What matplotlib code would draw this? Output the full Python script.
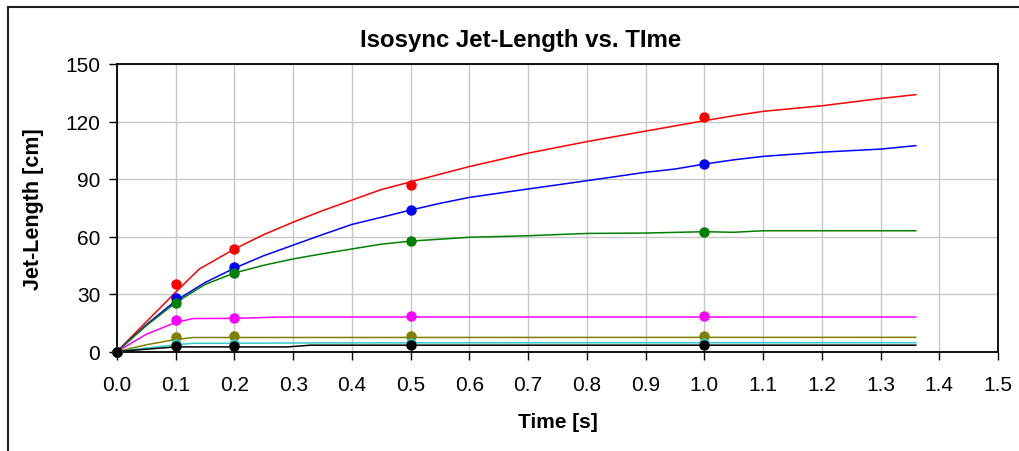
import numpy as np
import matplotlib
matplotlib.use("Agg")
import matplotlib.pyplot as plt
from matplotlib.lines import Line2D

plt.rcParams['font.family'] = ['Liberation Sans', 'DejaVu Sans']

# simulated curves (lines)
t_red = [0, 0.05, 0.1, 0.14, 0.2, 0.25, 0.3, 0.35, 0.4, 0.45, 0.5, 0.6, 0.7, 0.8, 0.9, 1.0, 1.05, 1.1, 1.2, 1.3, 1.36]
y_red = [0, 15.5, 31, 43, 53.5, 61, 67.5, 73.5, 79, 84.5, 88.5, 96.5, 103.5, 109.5, 115, 120.4, 123, 125.3, 128.2, 132, 134]

t_blue = [0, 0.05, 0.1, 0.15, 0.2, 0.25, 0.3, 0.35, 0.4, 0.45, 0.5, 0.55, 0.6, 0.7, 0.8, 0.9, 0.95, 1.0, 1.05, 1.1, 1.2, 1.3, 1.36]
y_blue = [0, 14, 26.5, 36, 43.5, 50, 55.5, 61, 66.3, 70, 73.8, 77.3, 80.4, 84.8, 89.1, 93.5, 95.2, 97.8, 100, 101.8, 104, 105.6, 107.4]

t_green = [0, 0.05, 0.1, 0.15, 0.2, 0.25, 0.3, 0.35, 0.4, 0.45, 0.5, 0.6, 0.7, 0.8, 0.9, 1.0, 1.05, 1.1, 1.36]
y_green = [0, 13.5, 25.5, 35, 41, 45, 48.3, 51, 53.5, 56, 57.6, 59.6, 60.4, 61.6, 61.8, 62.5, 62.2, 63, 63]

t_magenta = [0, 0.05, 0.1, 0.13, 0.2, 0.28, 1.36]
y_magenta = [0, 9, 15.2, 17.2, 17.3, 18, 18]

t_olive = [0, 0.05, 0.1, 0.13, 1.36]
y_olive = [0, 3.5, 6.3, 7.3, 7.4]

t_cyan = [0, 0.05, 0.1, 0.13, 0.2, 0.35, 1.36]
y_cyan = [0, 1.8, 3.5, 4.3, 4.3, 4.5, 4.6]

t_black = [0, 0.1, 0.29, 0.33, 1.36]
y_black = [0, 2.4, 2.4, 3.3, 3.3]

# measured values (dots)
t_meas = [0, 0.1, 0.2, 0.5, 1.0]
m_red = [0, 35.2, 53.5, 86.7, 122.5]
m_blue = [0, 27.7, 43.9, 73.8, 97.8]
m_green = [0, 25.3, 41, 57.6, 62.5]
m_magenta = [0, 16.4, 17.6, 18.4, 18.4]
m_olive = [0, 7.4, 8.1, 8.1, 8.1]
m_cyan = [0, 3.8, 4.1, 4.5, 4.6]
m_black = [0, 3.0, 3.0, 3.5, 3.5]

series = [
    (t_red, y_red, m_red, '#FF0000'),
    (t_blue, y_blue, m_blue, '#0000FF'),
    (t_green, y_green, m_green, '#008000'),
    (t_magenta, y_magenta, m_magenta, '#FF00FF'),
    (t_olive, y_olive, m_olive, '#808000'),
    (t_cyan, y_cyan, m_cyan, '#33CCCC'),
    (t_black, y_black, m_black, '#000000'),
]

fig = plt.figure(figsize=(10.2, 4.52), dpi=100)
ax = fig.add_axes([117 / 1020, 1 - 352.5 / 452, (998 - 117) / 1020, (352.5 - 65) / 452])

for t, y, m, c in series:
    ax.plot(t, y, color=c, lw=1.1, zorder=3)
for t, y, m, c in series:
    ax.plot(t_meas, m, 'o', color=c, ms=6.5, zorder=4, clip_on=False)

ax.set_xlim(0, 1.5)
ax.set_ylim(0, 150)
ax.set_xticks(np.arange(0, 1.51, 0.1))
ax.set_xticklabels([f'{v:.1f}' for v in np.arange(0, 1.51, 0.1)])
ax.set_yticks(np.arange(0, 151, 30))
ax.grid(True, color='#C8C8C8', lw=1.0)
ax.set_axisbelow(True)
ax.tick_params(direction='out', length=6, width=1, labelsize=15)
ax.tick_params(axis='x', pad=11)
ax.tick_params(axis='y', pad=6)
for s in ax.spines.values():
    s.set_color('black')
    s.set_linewidth(1.3)

fig.text(521 / 1020, 1 - 40 / 452, 'Isosync Jet-Length vs. TIme', fontsize=17.3, fontweight='bold',
         ha='center', va='center')
ax.set_xlabel('Time [s]', fontsize=15, fontweight='bold', labelpad=13)
ax.set_ylabel('Jet-Length [cm]', fontsize=15.5, fontweight='bold', labelpad=15)

# outer chart border (top and left visible)
fig.add_artist(Line2D([8 / 1020, 8 / 1020], [0, 1 - 8 / 452], transform=fig.transFigure, color='#202020', lw=1.5))
fig.add_artist(Line2D([8 / 1020, 1], [1 - 8 / 452, 1 - 8 / 452], transform=fig.transFigure, color='#202020', lw=1.5))

fig.savefig('out.png', dpi=100)
